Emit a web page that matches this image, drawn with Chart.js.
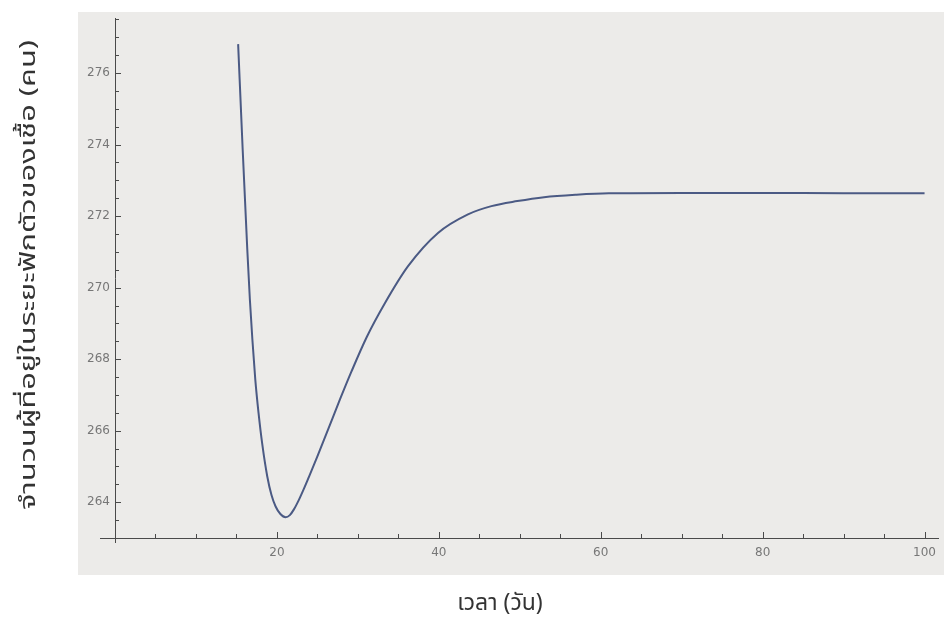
<!DOCTYPE html>
<html>
<head>
<meta charset="utf-8">
<script src="https://cdn.jsdelivr.net/npm/chart.js@4.4.0/dist/chart.umd.min.js"></script>
<style>
  html, body { margin: 0; padding: 0; background: #fff; }
  #wrap { width: 944px; height: 629px; position: relative; }
</style>
</head>
<body>
<div id="wrap"><canvas id="chart" width="944" height="629"></canvas></div>
<script>
// values
const timeDays = [15.21, 15.77, 16.34, 16.66, 16.97, 17.33, 17.73, 18.2, 18.81, 19.33, 19.84, 20.43, 21.07, 21.6, 22.1, 22.7, 23.3, 23.9, 25.0, 26.4, 27.8, 29.2, 31.1, 33.3, 36.2, 39.9, 43.6, 46.5, 49.7, 53.0, 57.0, 61.0, 70.0, 80.0, 90.0, 100.0];
const exposedPeople = [276.81, 273.87, 271.07, 269.67, 268.55, 267.43, 266.5, 265.61, 264.72, 264.2, 263.88, 263.67, 263.58, 263.64, 263.8, 264.06, 264.36, 264.68, 265.28, 266.08, 266.88, 267.65, 268.62, 269.55, 270.6, 271.53, 272.05, 272.28, 272.42, 272.53, 272.6, 272.64, 272.65, 272.65, 272.64, 272.64];

const xTickValues = [20, 40, 60, 80, 100];
const yTickValues = [264, 266, 268, 270, 272, 274, 276];
const xMinorStep = 5;
const yMinorStep = 0.5;

const xTitle = "เวลา (วัน)";
const yTitle = "จำนวนผู้ที่อยู่ในระยะฟักตัวของเชื้อ (คน)";

const thaiFont = '"Noto Sans Thai", "Noto Sans", "Liberation Sans", sans-serif';
const axisColor = "#4a4a4a";

const points = timeDays.map((t, i) => ({ x: t, y: exposedPeople[i] }));

// paper-like backdrop, extra axis bits, inner tick marks and the axis titles
const mathematicaAxes = {
    id: "mathematicaAxes",
    beforeDraw(chart) {
        const c = chart.ctx;
        c.save();
        c.fillStyle = "#ecebe9";
        c.fillRect(78, 12, 944 - 78, 575 - 12);
        c.restore();
    },
    afterDraw(chart) {
        const c = chart.ctx;
        const xs = chart.scales.x;
        const ys = chart.scales.y;
        const x0 = xs.getPixelForValue(0);
        const yBase = ys.getPixelForValue(ys.min);
        c.save();
        c.strokeStyle = axisColor;
        c.lineWidth = 1;
        c.beginPath();
        // x axis reaches a little left of the y axis, y axis a little below
        c.moveTo(100, yBase + 0.5);
        c.lineTo(x0, yBase + 0.5);
        c.moveTo(x0 + 0.5, yBase);
        c.lineTo(x0 + 0.5, yBase + 5);
        // x ticks, pointing up
        for (let v = xMinorStep; v <= xs.max; v += xMinorStep) {
            const px = Math.round(xs.getPixelForValue(v)) + 0.5;
            const len = xTickValues.includes(v) ? 6 : 4;
            c.moveTo(px, yBase);
            c.lineTo(px, yBase - len);
        }
        // y ticks, pointing right
        for (let v = ys.min + yMinorStep; v <= ys.max; v += yMinorStep) {
            const py = Math.round(ys.getPixelForValue(v)) + 0.5;
            const len = yTickValues.includes(v) ? 6 : 4;
            c.moveTo(x0, py);
            c.lineTo(x0 + len, py);
        }
        c.stroke();

        c.fillStyle = "#333";
        c.textAlign = "center";
        c.textBaseline = "middle";
        c.font = "23px " + thaiFont;
        c.fillText(xTitle, 500, 605);

        // the scanned y title runs wider than the font, so stretch it along its length
        c.font = "22px " + thaiFont;
        c.translate(31, 275);
        c.rotate(-Math.PI / 2);
        const w = c.measureText(yTitle).width;
        c.scale(470 / w, 1);
        c.fillText(yTitle, 0, 0);
        c.restore();
    }
};

const ctx = document.getElementById("chart").getContext("2d");
new Chart(ctx, {
    type: "scatter",
    data: {
        datasets: [{
            data: points,
            showLine: true,
            borderColor: "#4b5a84",
            borderWidth: 2,
            pointRadius: 0,
            cubicInterpolationMode: "monotone",
            fill: false
        }]
    },
    options: {
        responsive: false,
        animation: false,
        layout: { padding: { top: 18, left: 0, right: 0, bottom: 0 } },
        plugins: {
            legend: { display: false },
            tooltip: { enabled: false }
        },
        scales: {
            x: {
                type: "linear",
                min: 0,
                max: 101.7,
                afterBuildTicks: (scale) => { scale.ticks = xTickValues.map(v => ({ value: v })); },
                afterFit: (scale) => { scale.height = 91; },
                grid: { display: false, drawTicks: false },
                border: { display: true, color: axisColor, width: 1 },
                ticks: {
                    color: "#777",
                    font: { family: "DejaVu Sans", size: 12 },
                    padding: 8,
                    maxRotation: 0
                }
            },
            y: {
                type: "linear",
                min: 263,
                max: 277.54,
                afterBuildTicks: (scale) => { scale.ticks = yTickValues.map(v => ({ value: v })); },
                afterFit: (scale) => { scale.width = 115; },
                grid: { display: false, drawTicks: false },
                border: { display: true, color: axisColor, width: 1 },
                ticks: {
                    color: "#777",
                    font: { family: "DejaVu Sans", size: 12 },
                    padding: 5
                }
            }
        }
    },
    plugins: [mathematicaAxes]
});
</script>
</body>
</html>
